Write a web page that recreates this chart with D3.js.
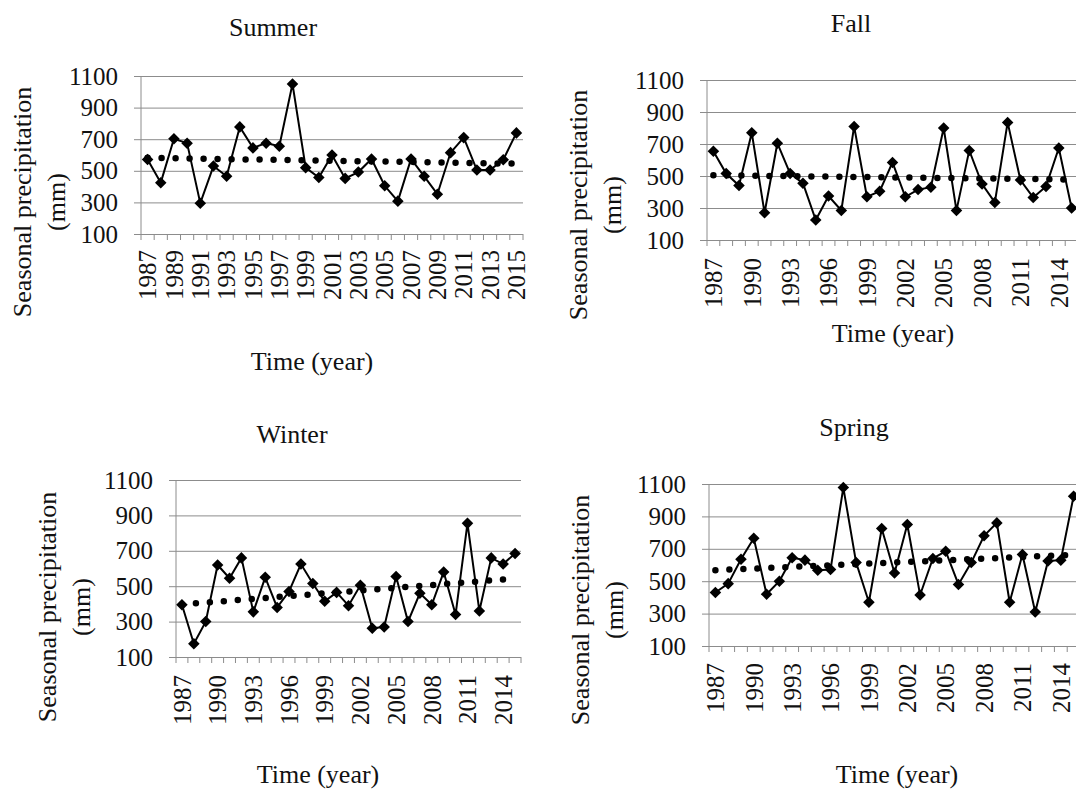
<!DOCTYPE html>
<html>
<head>
<meta charset="utf-8">
<script src="https://cdn.jsdelivr.net/npm/d3@7/dist/d3.min.js"></script>
<style>
body { margin: 0; background: #fff; }
text { font-family: "Liberation Serif", "Times New Roman", serif; fill: #111; }
</style>
</head>
<body>
<svg id="chart" width="1076" height="791"></svg>
<script>
// data (mm)
var years = ["1987","1988","1989","1990","1991","1992","1993","1994","1995","1996",
             "1997","1998","1999","2000","2001","2002","2003","2004","2005","2006",
             "2007","2008","2009","2010","2011","2012","2013","2014","2015"];

var summer = [572, 425, 703, 675, 295, 530, 465, 778, 645, 675, 655, 1050, 520, 458, 600,
              452, 492, 575, 405, 308, 575, 465, 352, 615, 710, 505, 505, 570, 740];
var fall   = [655, 515, 440, 770, 270, 705, 515, 455, 225, 375, 285, 810, 370, 405, 585,
              370, 415, 430, 800, 285, 660, 450, 335, 835, 475, 365, 435, 675, 300];
var winter = [395, 175, 300, 620, 545, 660, 355, 550, 380, 470, 625, 515, 415, 465, 390,
              505, 262, 270, 555, 300, 460, 395, 580, 340, 855, 360, 660, 625, 685];
var spring = [430, 485, 635, 765, 420, 500, 645, 630, 568, 572, 1078, 615, 370, 825, 550,
              850, 415, 640, 685, 480, 615, 780, 860, 370, 665, 310, 625, 630, 1025];

// linear trend, value at first and last year
var summerTrend = [582, 545];
var fallTrend   = [505, 478];
var winterTrend = [397, 543];
var springTrend = [568, 663];

var yTicks = [100, 300, 500, 700, 900, 1100];

var panels = [
  {title: "Summer", values: summer, trend: summerTrend, every: 2,
   left: 141, right: 523, top: 76, bottom: 234,
   titleX: 273, titleY: 36, yTitleX: 22, yTitleY: 202, xTitleX: 312, xTitleY: 370, gap: 16},
  {title: "Fall", values: fall, trend: fallTrend, every: 3,
   left: 707, right: 1078, top: 80, bottom: 240,
   titleX: 851, titleY: 32, yTitleX: 578, yTitleY: 205, xTitleX: 893, xTitleY: 342, gap: 18},
  {title: "Winter", values: winter, trend: winterTrend, every: 3,
   left: 176, right: 521, top: 480, bottom: 657,
   titleX: 292, titleY: 443, yTitleX: 47, yTitleY: 607, xTitleX: 318, xTitleY: 783, gap: 18},
  {title: "Spring", values: spring, trend: springTrend, every: 3,
   left: 709, right: 1080, top: 484, bottom: 646,
   titleX: 854, titleY: 436, yTitleX: 580, yTitleY: 610, xTitleX: 897, xTitleY: 783, gap: 17}
];

var svg = d3.select("#chart");
var grid = "#8c8c8c";

panels.forEach(function (p) {
  var g = svg.append("g");

  var x = d3.scaleBand().domain(years).range([p.left, p.right]).padding(0);
  var y = d3.scaleLinear().domain([100, 1100]).range([p.bottom, p.top]);
  var cx = function (d, i) { return x(years[i]) + x.bandwidth() / 2; };

  // gridlines + y labels
  var yAxis = g.append("g")
    .attr("transform", "translate(" + p.left + ",0)")
    .call(d3.axisLeft(y).tickValues(yTicks).tickSize(7).tickPadding(16).tickFormat(d3.format("d")));
  yAxis.select(".domain").remove();
  yAxis.selectAll(".tick line").attr("stroke", grid).attr("x2", p.right - p.left).attr("x1", -7);
  yAxis.selectAll(".tick text").style("font-size", "25px").attr("fill", "#111");

  // y axis line
  g.append("line")
    .attr("x1", p.left).attr("x2", p.left)
    .attr("y1", p.top).attr("y2", p.bottom)
    .attr("stroke", grid);

  // category boundary ticks
  g.selectAll(".xtick")
    .data(years.concat(["end"]))
    .enter().append("line")
    .attr("x1", function (d) { return d === "end" ? p.right : x(d); })
    .attr("x2", function (d) { return d === "end" ? p.right : x(d); })
    .attr("y1", p.bottom).attr("y2", p.bottom + 6)
    .attr("stroke", grid);

  // x labels, rotated
  g.selectAll(".xlab")
    .data(years.filter(function (d, i) { return i % p.every === 0; }))
    .enter().append("text")
    .attr("transform", function (d) {
      return "translate(" + (x(d) + x.bandwidth() / 2) + "," + (p.bottom + p.gap) + ") rotate(-90)";
    })
    .attr("dy", "0.35em")
    .attr("text-anchor", "end")
    .style("font-size", "25px")
    .text(function (d) { return d; });

  // trend line (round dots)
  var trendLine = d3.line()
    .x(function (d, i) { return i === 0 ? x(years[0]) + x.bandwidth() / 2 : x(years[years.length - 1]) + x.bandwidth() / 2; })
    .y(function (d) { return y(d); });
  g.append("path")
    .datum(p.trend)
    .attr("d", trendLine)
    .attr("fill", "none")
    .attr("stroke", "#000")
    .attr("stroke-width", 6.5)
    .attr("stroke-linecap", "round")
    .attr("stroke-dasharray", "0,14");

  // series line
  var line = d3.line().x(cx).y(function (d) { return y(d); });
  g.append("path")
    .datum(p.values)
    .attr("d", line)
    .attr("fill", "none")
    .attr("stroke", "#000")
    .attr("stroke-width", 2);

  // diamond markers
  g.selectAll(".pt")
    .data(p.values)
    .enter().append("path")
    .attr("d", d3.symbol().type(d3.symbolDiamond2).size(85))
    .attr("transform", function (d, i) { return "translate(" + cx(d, i) + "," + y(d) + ")"; })
    .attr("fill", "#000");

  // titles
  g.append("text")
    .attr("x", p.titleX).attr("y", p.titleY)
    .attr("text-anchor", "middle")
    .style("font-size", "26px")
    .text(p.title);

  g.append("text")
    .attr("x", p.xTitleX).attr("y", p.xTitleY)
    .attr("text-anchor", "middle")
    .style("font-size", "26px")
    .text("Time (year)");

  g.append("text")
    .attr("transform", "translate(" + p.yTitleX + "," + p.yTitleY + ") rotate(-90)")
    .attr("dy", "0.35em")
    .attr("text-anchor", "middle")
    .style("font-size", "26px")
    .text("Seasonal precipitation");

  g.append("text")
    .attr("transform", "translate(" + (p.yTitleX + 34) + "," + p.yTitleY + ") rotate(-90)")
    .attr("dy", "0.35em")
    .attr("text-anchor", "middle")
    .style("font-size", "26px")
    .text("(mm)");
});
</script>
</body>
</html>
